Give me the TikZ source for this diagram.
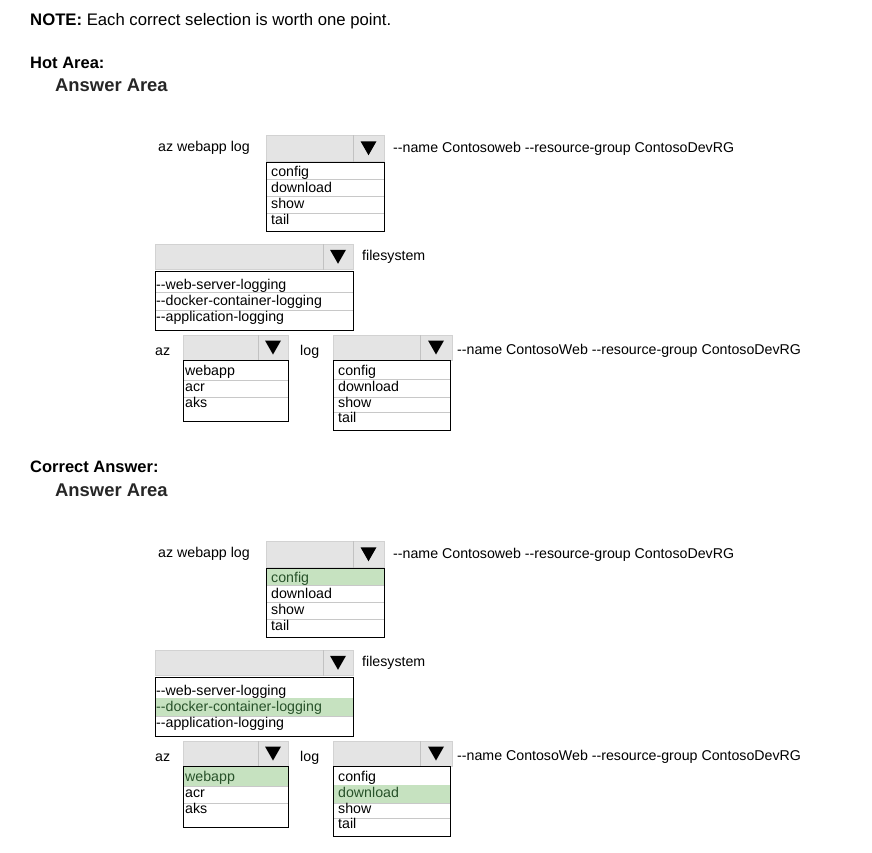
\documentclass[tikz,border=0pt]{standalone}
\usepackage{fontspec}
\setmainfont{Liberation Sans}
\usetikzlibrary{calc}

\definecolor{combofill}{HTML}{E4E4E4}
\definecolor{comboline}{HTML}{D2D2D2}
\definecolor{combodiv}{HTML}{C2C2C2}
\definecolor{rowline}{HTML}{C8C8C8}
\definecolor{pickfill}{HTML}{C6E2C0}
\definecolor{picktext}{HTML}{28522A}
\definecolor{areatext}{HTML}{262626}

\newcommand{\dd}{-\kern0pt-}
\newcommand{\uitext}{\fontsize{14.2}{16}\selectfont}

\tikzset{
  label text/.style={anchor=base west, inner sep=0pt, font=\uitext},
  head text/.style={anchor=base west, inner sep=0pt, font=\fontsize{16.5}{19}\selectfont\bfseries},
  area text/.style={anchor=base west, inner sep=0pt, font=\fontsize{18.4}{22}\selectfont\bfseries, text=areatext},
  combo/.style={draw=comboline, fill=combofill, line width=0.8pt},
  combo div/.style={draw=combodiv, line width=0.8pt},
  drop tip/.style={fill=black},
  list frame/.style={draw=black, line width=0.9pt},
  item line/.style={draw=rowline, line width=0.6pt},
  pick/.style={fill=pickfill},
}

% combo box: name, x1, y1, x2, y2, divider x
\newcommand{\combobox}[6]{%
  \path[combo] (#2,#3) rectangle (#4,#5);
  \draw[combo div] (#6,#3) -- (#6,#5);
  \coordinate (#1) at ($(#6,#3)!0.5!(#4,#5)$);
  \fill[drop tip, shift={(#1)}] (-8,-7) -- (8,-7) -- (0,7) -- cycle;
}

\begin{document}
\begin{tikzpicture}[x=1pt,y=-1pt]
\useasboundingbox[fill=white] (0,0) rectangle (872,852);

\node[anchor=base west, inner sep=0pt, font=\fontsize{16.7}{19}\selectfont] (note) at (30,25)
  {\textbf{NOTE:} Each correct selection is worth one point.};
\node[head text] (hot) at (30,68.3) {Hot Area:};
\node[area text] (hot-area) at (55,91.7) {Answer Area};
\node[head text] (correct) at (30,472.7) {Correct Answer:};
\node[area text] (correct-area) at (55,496.7) {Answer Area};

\foreach \blk/\dy/\pa/\pb/\pc/\pd in {h/0/0/0/0/0, c/406/1/2/1/2}{
\begin{scope}[shift={(0,\dy)}]
% first command
\node[label text] (\blk-cmd) at (158,151) {az webapp log};
\combobox{\blk-verb}{266}{135}{384}{161.5}{353}
\node[label text] (\blk-args) at (393,152.5) {\dd name Contosoweb \dd resource-group ContosoDevRG};
\foreach \txt/\ya/\yb/\yt [count=\i] in {config/162/179/176, download/179/196.5/192.5,
    show/196.5/213/208.5, tail/213/231/224.5}{
  \ifnum\i=\pa \fill[pick] (266,\ya) rectangle (384,\yb); \def\itemcol{picktext}\else\def\itemcol{black}\fi
  \draw[item line] (266,\yb) -- (384,\yb);
  \node[label text, text=\itemcol] (\blk-verb-\i) at (271,\yt) {\txt};
}
\draw[list frame] (266,162) rectangle (384,231);

% second command
\combobox{\blk-flag}{155}{244}{353}{269.5}{323}
\node[label text] (\blk-fs) at (362,260) {filesystem};
\foreach \txt/\ya/\yb/\yt [count=\i] in {\dd web-server-logging/271/292/289,
    \dd docker-container-logging/292/310/305.7, \dd application-logging/310/330.5/321}{
  \ifnum\i=\pb \fill[pick] (155,\ya) rectangle (353,\yb); \def\itemcol{picktext}\else\def\itemcol{black}\fi
  \draw[item line] (155,\yb) -- (353,\yb);
  \node[label text, text=\itemcol] (\blk-flag-\i) at (156,\yt) {\txt};
}
\draw[list frame] (155,271) rectangle (353,330.5);

% third command
\node[label text] (\blk-az) at (155,355) {az};
\combobox{\blk-grp}{183}{335}{288}{360}{258}
\foreach \txt/\ya/\yb/\yt [count=\i] in {webapp/360/380/375, acr/380/397/391.7, aks/397/421/407}{
  \ifnum\i=\pc \fill[pick] (183,\ya) rectangle (288,\yb); \def\itemcol{picktext}\else\def\itemcol{black}\fi
  \draw[item line] (183,\yb) -- (288,\yb);
  \node[label text, text=\itemcol] (\blk-grp-\i) at (185,\yt) {\txt};
}
\draw[list frame] (183,360) rectangle (288,421);

\node[label text] (\blk-log) at (300,355) {log};
\combobox{\blk-act}{333}{335}{452}{360}{420}
\foreach \txt/\ya/\yb/\yt [count=\i] in {config/360/379/375, download/379/397/391,
    show/397/412/407, tail/412/430/422.7}{
  \ifnum\i=\pd \fill[pick] (333,\ya) rectangle (450,\yb); \def\itemcol{picktext}\else\def\itemcol{black}\fi
  \draw[item line] (333,\yb) -- (450,\yb);
  \node[label text, text=\itemcol] (\blk-act-\i) at (338,\yt) {\txt};
}
\draw[list frame] (333,360) rectangle (450,430);
\node[label text] (\blk-opts) at (457,354) {\dd name ContosoWeb \dd resource-group ContosoDevRG};
\end{scope}
}
\end{tikzpicture}
\end{document}
